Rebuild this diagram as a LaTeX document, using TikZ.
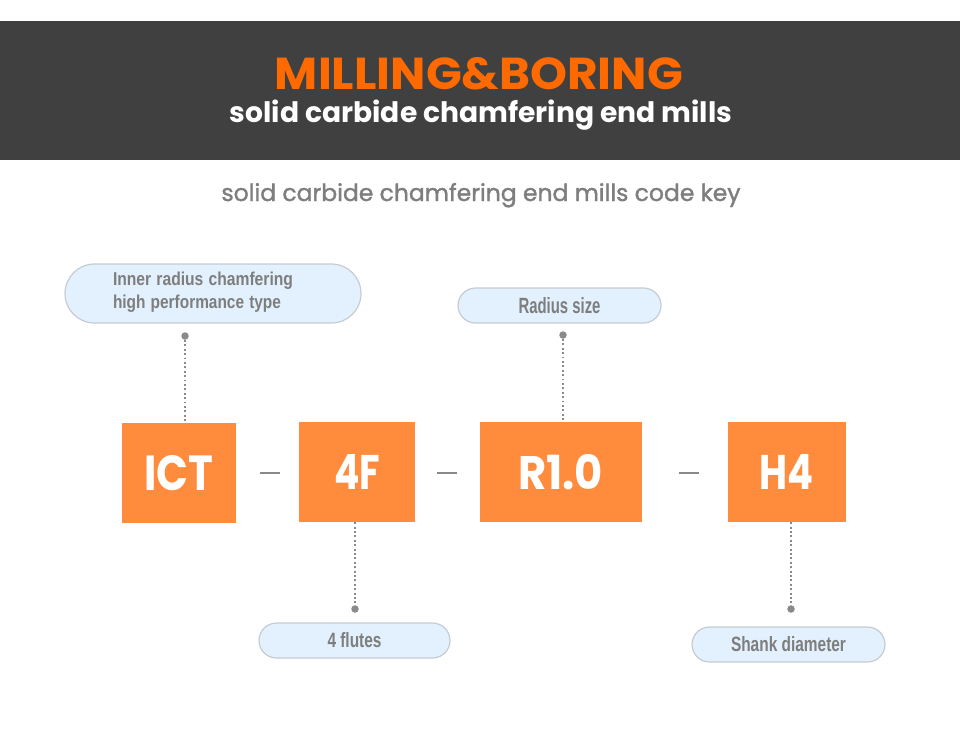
\documentclass[tikz,border=0pt]{standalone}
\usepackage{graphicx}
\usepackage{fontspec}
\setmainfont{Poppins}
\newfontfamily\keyfont{Poppins}[FakeBold=1.4]
\newfontfamily\tagfont{Liberation Sans}
\definecolor{band}{HTML}{404040}
\definecolor{titleorange}{HTML}{FF6A00}
\definecolor{boxorange}{HTML}{FE8C3C}
\definecolor{bubblefill}{HTML}{E2F1FD}
\definecolor{bubbleline}{HTML}{C5CCD3}
\definecolor{textgray}{HTML}{7E7E7E}
\definecolor{leadgray}{HTML}{8A8A8A}
\newcommand{\fitbox}[3]{\resizebox{#1pt}{#2pt}{#3}}
\tikzset{
  codebox/.style={fill=boxorange,text=white,inner sep=0pt},
  bubble/.style={fill=bubblefill,draw=bubbleline,line width=1.2pt,
    text=textgray,inner sep=0pt,font=\tagfont\bfseries},
  lead/.style={leadgray,line width=1.9pt,dash pattern=on 1.9pt off 2.5pt},
  leaddot/.style={circle,fill=leadgray,inner sep=0pt,minimum size=7.5pt},
  sep/.style={leadgray,line width=2.6pt}
}
\begin{document}
\begin{tikzpicture}[x=1pt,y=-1pt]
      \useasboundingbox (0,0) rectangle (960,729);
      \fill[band] (0,21) rectangle (960,160);
      \node (title) at (479,74) {\fitbox{408}{32}{\color{titleorange}\bfseries MILLING\&BORING}};
      \node[text=white,anchor=base] (sub) at (481,122) {\resizebox{502pt}{!}{\bfseries solid carbide chamfering end mills}};
      \node[text=textgray,anchor=base] (key) at (481,201) {\resizebox{519pt}{!}{\keyfont solid carbide chamfering end mills code key}};
      \node[codebox,minimum width=114pt,minimum height=100pt] (ict) at (179,473) {\fitbox{69}{35}{\bfseries ICT}};
      \node[codebox,minimum width=116pt,minimum height=100pt] (flutes) at (357,472) {\fitbox{46}{35}{\bfseries 4F}};
      \node[codebox,minimum width=162pt,minimum height=100pt] (radius) at (560.5,472) {\fitbox{85}{35}{\bfseries R1.0}};
      \node[codebox,minimum width=118pt,minimum height=100pt] (shank) at (786.5,472) {\fitbox{54}{35}{\bfseries H4}};
      \draw[sep] (260,473) -- (280,473);
      \draw[sep] (437,473) -- (457,473);
      \draw[sep] (679,473) -- (699,473);
      \node[bubble,rounded corners=29.5pt,minimum height=59pt,inner xsep=48pt,
        text width=200pt,align=left,font=\tagfont\bfseries\fontsize{16}{23}\selectfont]
        (ictnote) at (213,293.5) {\fitbox{180}{13.5}{Inner radius chamfering}\\\fitbox{168}{13.5}{high performance type}\vspace*{3pt}};
      \node[bubble,rounded corners=17.5pt,minimum width=203pt,minimum height=35pt] (radiusnote) at (559.5,305.5) {\fitbox{82}{16}{Radius size}};
      \node[bubble,rounded corners=17.5pt,minimum width=191pt,minimum height=35pt] (flutesnote) at (354.5,640.5) {\fitbox{54}{15}{4 flutes}};
      \node[bubble,rounded corners=17.5pt,minimum width=193pt,minimum height=35pt] (shanknote) at (788.5,644.5) {\fitbox{115}{15}{Shank diameter}};
      \node[leaddot] (ictdot) at (185,336) {};
      \node[leaddot] (radiusdot) at (563,335) {};
      \node[leaddot] (flutesdot) at (355,609) {};
      \node[leaddot] (shankdot) at (791,609) {};
      \begin{scope}[lead]
        \draw (ictdot) -- (ictdot |- ict.north);
        \draw (radiusdot) -- (radiusdot |- radius.north);
        \draw (flutesdot |- flutes.south) -- (flutesdot);
        \draw (shankdot |- shank.south) -- (shankdot);
      \end{scope}
    \end{tikzpicture}
\end{document}
